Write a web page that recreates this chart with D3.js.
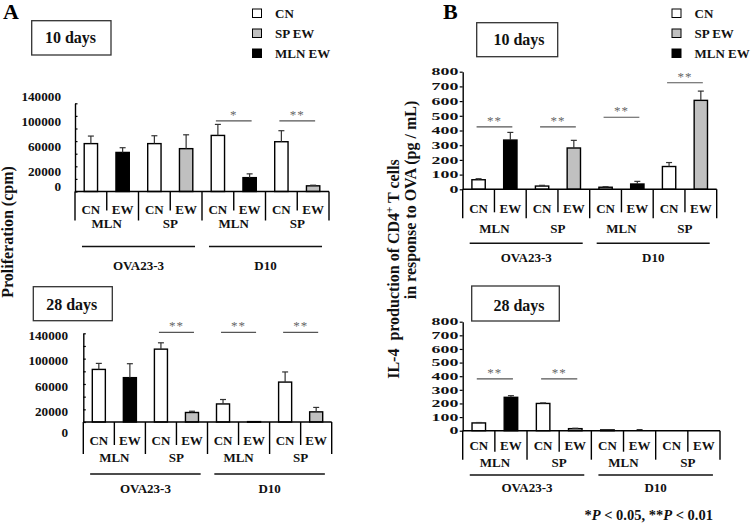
<!DOCTYPE html>
<html><head><meta charset="utf-8">
<script src="https://cdn.jsdelivr.net/npm/d3@7"></script>
<style>body{margin:0;background:#fff}svg{display:block}</style>
</head><body><script>
// ---------- data ----------
const barLabels = ["CN","EW","CN","EW","CN","EW","CN","EW"];
const tissueLabels = ["MLN","SP","MLN","SP"];
const cellLines = ["OVA23-3","D10"];
const barSeries = ["CN","MLN EW","CN","SP EW","CN","MLN EW","CN","SP EW"];
const legendItems = ["CN","SP EW","MLN EW"];
const legendColors = ["#ffffff","#c0c0c0","#000000"];

const prolif10    = [76000, 62000, 76000, 68000, 89000, 22000, 79000, 9000];
const prolif10Err = [12000, 7500, 12500, 22000, 17500, 6000, 17500, 1000];
const prolif28    = [83000, 70000, 115000, 15000, 28500, 600, 63000, 16000];
const prolif28Err = [9500, 22000, 10000, 2000, 7000, 0, 16000, 7000];
const il4d10      = [65, 335, 22, 281, 14, 36, 155, 605];
const il4d10Err   = [7, 52, 5, 52, 4, 18, 27, 63];
const il4d28      = [57, 245, 200, 15, 0, 6, 0, 0];
const il4d28Err   = [3, 12, 4, 3, 0, 2, 0, 0];

const prolifTickLabels = [140000, 100000, 60000, 20000, 0];
const il4TickLabels = [800, 700, 600, 500, 400, 300, 200, 100, 0];

const sigA10 = [{a:4,b:5,v:112000,t:"*"},{a:6,b:7,v:112000,t:"**"}];
const sigA28 = [{a:2,b:3,v:141500,t:"**"},{a:4,b:5,v:141500,t:"**"},{a:6,b:7,v:141500,t:"**"}];
const sigB10 = [{a:0,b:1,v:425,t:"**"},{a:2,b:3,v:425,t:"**"},{a:4,b:5,v:490,t:"**"},{a:6,b:7,v:725,t:"**"}];
const sigB28 = [{a:0,b:1,v:380,t:"**"},{a:2,b:3,v:380,t:"**"}];

// ---------- drawing ----------
const FONT = '"Liberation Serif","Times New Roman",serif';
const svg = d3.select("body").append("svg").attr("width",751).attr("height",525)
  .style("background","#fff").attr("font-family",FONT).attr("font-weight","bold");

const color = d3.scaleOrdinal().domain(legendItems).range(legendColors);

const panels = [
  {values:prolif10, errors:prolif10Err, sigs:sigA10, xL:75, xR:329, y0:191.5, yT:103.3, max:140000, step:20000,
   tickDir:1, tickLen:2.5, labels:prolifTickLabels, labelRight:61, labelDy:-6.5, zeroDy:-5, labelSize:12, labelSX:1.1,
   catDy:22.6, tisDy:36.6, lineDy:55, cellDy:78.5, divOuter:29, divInner:19,
   box:{x:31.7,y:20.7,w:79.3,h:34.3,tx:70.5,ty:43.3,t:"10 days"}},
  {values:prolif28, errors:prolif28Err, sigs:sigA28, xL:83.3, xR:331.7, y0:422, yT:333.3, max:140000, step:20000,
   tickDir:1, tickLen:2.5, labels:prolifTickLabels, labelRight:68, labelDy:2.7, zeroDy:11.3, labelSize:12, labelSX:1.1,
   catDy:23, tisDy:39.5, lineDy:52, cellDy:71.3, divOuter:32, divInner:23,
   box:{x:33.3,y:286.7,w:79,h:34,tx:71.7,ty:310,t:"28 days"}},
  {values:il4d10, errors:il4d10Err, sigs:sigB10, xL:462.7, xR:716.7, y0:189.3, yT:71.7, max:800, step:100,
   tickDir:-1, tickLen:3, labels:il4TickLabels, labelRight:458.3, labelDy:0, zeroDy:0, labelSize:11, labelSX:1.62,
   catDy:24, tisDy:43.4, lineDy:54, cellDy:72.4, divOuter:29, divInner:23,
   box:{x:476.7,y:22.7,w:81,h:34,tx:519,ty:45,t:"10 days"}},
  {values:il4d28, errors:il4d28Err, sigs:sigB28, xL:462.7, xR:720, y0:430.7, yT:321.7, max:800, step:100,
   tickDir:-1, tickLen:3, labels:il4TickLabels, labelRight:458.3, labelDy:0, zeroDy:0, labelSize:11, labelSX:1.62,
   catDy:19.3, tisDy:36, lineDy:44.3, cellDy:61, divOuter:29, divInner:21,
   box:{x:471.7,y:286,w:87.6,h:35,tx:519,ty:310.7,t:"28 days"}}
];

panels.forEach(p => {
  const g = svg.append("g");
  const x = d3.scaleBand().domain(d3.range(barLabels.length)).range([p.xL, p.xR]).padding(0);
  const y = d3.scaleLinear().domain([0, p.max]).range([p.y0, p.yT]);
  const bw = x.bandwidth(), barW = bw * 0.42;
  const cx = i => x(i) + bw / 2;

  // box label
  g.append("rect").attr("x",p.box.x).attr("y",p.box.y).attr("width",p.box.w).attr("height",p.box.h)
    .attr("fill","#fff").attr("stroke","#333").attr("stroke-width",1.3);
  g.append("text").attr("x",p.box.tx).attr("y",p.box.ty).attr("text-anchor","middle")
    .attr("font-size",16).attr("fill","#111").text(p.box.t);

  // bars
  g.selectAll("rect.bar").data(p.values).join("rect").attr("class","bar")
    .filter(d => d > 0)
    .attr("x",(d,i) => x(i) + (bw - barW) / 2).attr("y",d => y(d))
    .attr("width",barW).attr("height",d => Math.max(0.6, p.y0 - y(d)))
    .attr("fill",(d,i) => color(barSeries[i])).attr("stroke","#000").attr("stroke-width",1.4);
  g.selectAll("rect.bar").filter(d => d <= 0).remove();

  // error bars (upper only)
  p.values.forEach((v,i) => {
    const e = p.errors[i];
    if (!(e > 0) || !(v > 0)) return;
    g.append("line").attr("x1",cx(i)).attr("x2",cx(i)).attr("y1",y(v)).attr("y2",y(v+e))
      .attr("stroke","#333").attr("stroke-width",1.2);
    g.append("line").attr("x1",cx(i)-3).attr("x2",cx(i)+3).attr("y1",y(v+e)).attr("y2",y(v+e))
      .attr("stroke","#333").attr("stroke-width",1.2);
  });

  // y axis
  const axis = (p.tickDir > 0 ? d3.axisRight(y) : d3.axisLeft(y))
    .tickValues(d3.range(0, p.max + 1, p.step)).tickSize(p.tickLen).tickSizeOuter(0).tickFormat("");
  const ag = g.append("g").attr("transform",`translate(${p.xL},0)`).call(axis);
  ag.select(".domain").attr("stroke","#000").attr("stroke-width",1.4);
  ag.selectAll(".tick line").attr("stroke","#000").attr("stroke-width",1.2);

  // y tick labels
  p.labels.forEach(v => {
    const yy = y(v) + (v === 0 ? p.zeroDy : p.labelDy) + 0.34 * p.labelSize;
    g.append("text").attr("transform",`translate(${p.labelRight},${yy}) scale(${p.labelSX},1)`)
      .attr("text-anchor","end").attr("font-size",p.labelSize).attr("fill","#111").text(v);
  });

  // x axis line and dividers
  g.append("line").attr("x1",p.xL).attr("x2",p.xR).attr("y1",p.y0).attr("y2",p.y0)
    .attr("stroke","#000").attr("stroke-width",1.5);
  d3.range(barLabels.length + 1).forEach(i => {
    const xx = i < barLabels.length ? x(i) : p.xR;
    g.append("line").attr("x1",xx).attr("x2",xx).attr("y1",p.y0)
      .attr("y2",p.y0 + (i % 2 === 0 ? p.divOuter : p.divInner))
      .attr("stroke","#000").attr("stroke-width",1.4);
  });

  // category labels
  barLabels.forEach((t,i) => {
    g.append("text").attr("x",cx(i)).attr("y",p.y0 + p.catDy).attr("text-anchor","middle")
      .attr("font-size",13).attr("fill","#111").text(t);
  });
  tissueLabels.forEach((t,k) => {
    g.append("text").attr("x",x(2*k) + bw).attr("y",p.y0 + p.tisDy).attr("text-anchor","middle")
      .attr("font-size",13).attr("fill","#111").text(t);
  });
  cellLines.forEach((t,k) => {
    const half = (p.xR - p.xL) / 2;
    const c = p.xL + half * k + half / 2;
    const len = half * 0.89;
    g.append("line").attr("x1",c - len/2).attr("x2",c + len/2)
      .attr("y1",p.y0 + p.lineDy).attr("y2",p.y0 + p.lineDy).attr("stroke","#111").attr("stroke-width",1.4);
    g.append("text").attr("x",c).attr("y",p.y0 + p.cellDy).attr("text-anchor","middle")
      .attr("font-size",13).attr("fill","#111").text(t);
  });

  // significance
  p.sigs.forEach(s => {
    const ly = y(s.v);
    g.append("line").attr("x1",cx(s.a) - 2).attr("x2",cx(s.b) + 2).attr("y1",ly).attr("y2",ly)
      .attr("stroke","#555").attr("stroke-width",1.2);
    g.append("text").attr("x",(cx(s.a) + cx(s.b)) / 2).attr("y",ly - 2).attr("text-anchor","middle")
      .attr("font-size",13).attr("font-weight","normal").attr("fill","#666")
      .attr("letter-spacing",1).text(s.t);
  });
});

// legends
[{x:252.5},{x:672}].forEach(L => {
  legendItems.forEach((t,i) => {
    svg.append("rect").attr("x",L.x).attr("y",9 + i*20).attr("width",9).attr("height",8.5)
      .attr("fill",color(t)).attr("stroke","#000").attr("stroke-width",1);
    svg.append("text").attr("x",L.x + 22.5).attr("y",17.5 + i*20).attr("font-size",13)
      .attr("fill","#111").text(t);
  });
});

// panel letters
svg.append("text").attr("x",3).attr("y",18.5).attr("font-size",22).attr("fill","#000").text("A");
svg.append("text").attr("x",443).attr("y",18.5).attr("font-size",22).attr("fill","#000").text("B");

// y-axis titles
svg.append("text").attr("transform","translate(12.5,232) rotate(-90)").attr("text-anchor","middle")
  .attr("font-size",16).attr("fill","#111").text("Proliferation (cpm)");
const t1 = svg.append("text").attr("transform","translate(399,269) rotate(-90)").attr("text-anchor","middle")
  .attr("font-size",16).attr("fill","#111").style("white-space","pre");
t1.append("tspan").text("IL-4  production of CD4");
t1.append("tspan").attr("font-size",11).attr("dy",-6).text("+");
t1.append("tspan").attr("dy",6).text(" T cells");
svg.append("text").attr("transform","translate(415.5,200) rotate(-90)").attr("text-anchor","middle")
  .attr("font-size",16).attr("fill","#111").text("in response to OVA (pg / mL)");

// footnote
const fn = svg.append("text").attr("x",713).attr("y",520).attr("text-anchor","end")
  .attr("font-size",14.5).attr("fill","#111").style("white-space","pre");
fn.append("tspan").text("*");
fn.append("tspan").attr("font-style","italic").text("P");
fn.append("tspan").text(" < 0.05, **");
fn.append("tspan").attr("font-style","italic").text("P");
fn.append("tspan").text(" < 0.01");
</script></body></html>
